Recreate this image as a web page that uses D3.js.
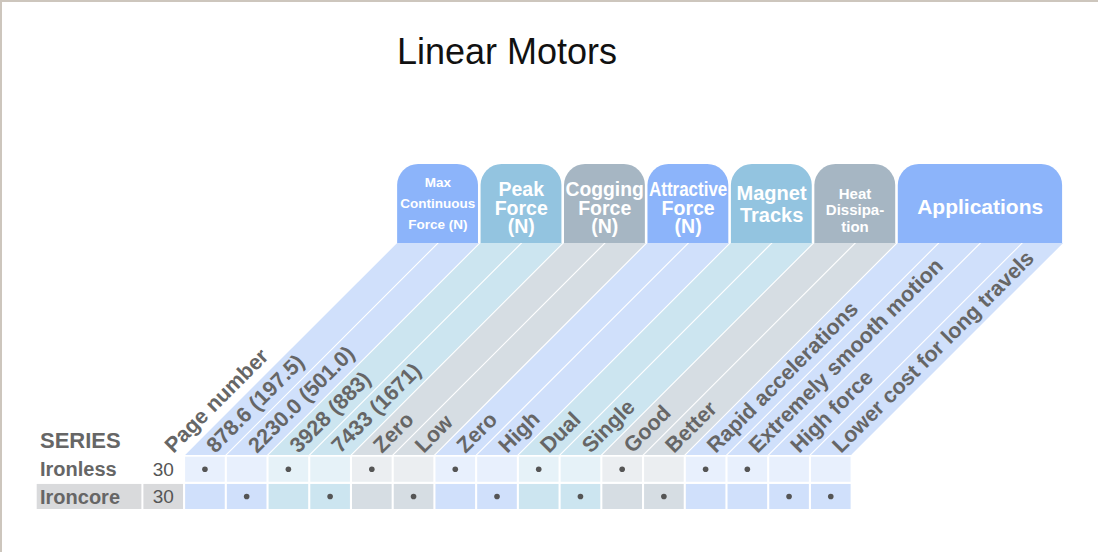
<!DOCTYPE html>
<html>
<head>
<meta charset="utf-8">
<script src="https://cdn.jsdelivr.net/npm/d3@7"></script>
<style>
  body { margin: 0; background: #fff; }
  svg { display: block; font-family: "Liberation Sans", Arial, sans-serif; }
</style>
</head>
<body>
<div id="chart-area"></div>
<script>
// columns (first one is the page number column)
var columns = ["Page number", "878.6 (197.5)", "2230.0 (501.0)", "3928 (883)", "7433 (1671)",
  "Zero", "Low", "Zero", "High", "Dual", "Single", "Good", "Better",
  "Rapid accelerations", "Extremely smooth motion", "High force", "Lower cost for long travels"];

// header groups
var groupTitles = [["Max", "Continuous", "Force (N)"], ["Peak", "Force", "(N)"], ["Cogging", "Force", "(N)"],
  ["Attractive", "Force", "(N)"], ["Magnet", "Tracks"], ["Heat", "Dissipa-", "tion"], ["Applications"]];
var groupSpans = [2, 2, 2, 2, 2, 2, 4];
var groupKinds = ["blue", "cyan", "gray", "blue", "cyan", "gray", "blue"];

// series rows
var series = ["Ironless", "Ironcore"];
var pageNumbers = [30, 30];
var ironless = [1, 0, 1, 0, 1, 0, 1, 0, 1, 0, 1, 0, 1, 1, 0, 0];
var ironcore = [0, 1, 0, 1, 0, 1, 0, 1, 0, 1, 0, 1, 0, 0, 1, 1];

var width = 1098, height = 552;
var svg = d3.select("#chart-area").append("svg").attr("width", width).attr("height", height);

var bandColor = {blue: "#d0e0fb", cyan: "#cce5f0", gray: "#d6dde3"};
var tabColor = {blue: "#8cb4fa", cyan: "#93c4e0", gray: "#a6b6c3"};
// tab text styles: size, line height, centre
var tabStyle = [
  {fs: 13.5, lh: 21, cy: 203}, {fs: 19.5, lh: 18.5, cy: 208}, {fs: 19.5, lh: 18.5, cy: 208},
  {fs: 19.5, lh: 18.5, cy: 208}, {fs: 20, lh: 22, cy: 204}, {fs: 15, lh: 16.5, cy: 210}, {fs: 21, lh: 20, cy: 207}
];

// frame
svg.append("line").attr("x1", 0).attr("x2", width).attr("y1", 1).attr("y2", 1).attr("stroke", "#cdc6bd").attr("stroke-width", 2);
svg.append("line").attr("x1", 1).attr("x2", 1).attr("y1", 0).attr("y2", height).attr("stroke", "#cdc6bd").attr("stroke-width", 2);

svg.append("text").attr("x", 397).attr("y", 64).attr("font-size", 36).attr("fill", "#111").text("Linear Motors");

var x = d3.scaleBand().domain(d3.range(columns.length)).range([143.4, 850.6]).paddingInner(0.05);
var y = d3.scaleBand().domain(series).range([456.7, 509]).paddingInner(0.08);
var bw = x.bandwidth();
var yB = 455, yT = 243, H = yB - yT;

// colour kind for each data column
var colKind = [];
groupSpans.forEach(function(s, i) { for (var k = 0; k < s; k++) colKind.push(groupKinds[i]); });

// slanted bands
var bandCols = d3.range(1, columns.length);
svg.selectAll(".band").data(bandCols).enter().append("path")
  .attr("class", "band")
  .attr("fill", function(d) { return bandColor[colKind[d - 1]]; })
  .attr("d", function(d) {
    var x0 = x(d), x1 = x(d) + bw + 0.5;
    return "M" + x0 + "," + yB + "L" + x1 + "," + yB + "L" + (x1 + H) + "," + yT + "L" + (x0 + H) + "," + yT + "Z";
  });

// tabs
var start = 1;
var tabs = groupSpans.map(function(s, i) {
  var t = {i: i, a: start, b: start + s - 1};
  start += s;
  return t;
});
var r = 21, tabTop = 164;
var tabG = svg.selectAll(".tab").data(tabs).enter().append("g").attr("class", "tab");
tabG.append("path")
  .attr("fill", function(d) { return tabColor[groupKinds[d.i]]; })
  .attr("d", function(d) {
    var x0 = x(d.a) + H, x1 = x(d.b) + bw + H - 0.5;
    return "M" + x0 + "," + yT + "L" + x0 + "," + (tabTop + r) +
      "A" + r + "," + r + " 0 0 1 " + (x0 + r) + "," + tabTop +
      "L" + (x1 - r) + "," + tabTop +
      "A" + r + "," + r + " 0 0 1 " + x1 + "," + (tabTop + r) +
      "L" + x1 + "," + yT + "Z";
  });
tabG.each(function(d) {
  var st = tabStyle[d.i];
  var x0 = x(d.a) + H, x1 = x(d.b) + bw + H;
  var lines = groupTitles[d.i];
  var n = lines.length;
  lines.forEach(function(l, k) {
    var t = d3.select(this).append("text")
      .attr("x", (x0 + x1) / 2)
      .attr("y", st.cy + (k - (n - 1) / 2) * st.lh + 0.35 * st.fs)
      .attr("text-anchor", "middle")
      .attr("font-size", st.fs)
      .attr("font-weight", "bold")
      .attr("fill", "#fff")
      .text(l);
    var maxW = x1 - x0 - 3;
    if (t.node().getComputedTextLength() > maxW) {
      t.attr("textLength", maxW).attr("lengthAdjust", "spacingAndGlyphs");
    }
  }, this);
});

// slanted column labels
svg.selectAll(".colLabel").data(d3.range(columns.length)).enter().append("text")
  .attr("class", "colLabel")
  .attr("transform", function(d) { return "translate(" + (x(d) + bw / 2) + "," + yB + ") rotate(-45)"; })
  .attr("x", 8)
  .attr("dy", "0.3em")
  .attr("font-size", 21.5)
  .attr("font-weight", "bold")
  .attr("fill", "#666")
  .text(function(d) { return columns[d]; });

// series table
svg.append("text").attr("x", 40).attr("y", 448).attr("font-size", 22).attr("font-weight", "bold").attr("fill", "#666").text("SERIES");

var marks = [ironless, ironcore];
series.forEach(function(s, i) {
  var ry = y(s), rh = y.bandwidth();
  if (i === 1) {
    svg.append("rect").attr("x", 36.7).attr("y", ry).attr("width", x(0) - 2 - 36.7).attr("height", rh).attr("fill", "#d9dadc");
    svg.append("rect").attr("x", x(0)).attr("y", ry).attr("width", bw).attr("height", rh).attr("fill", "#d9dadc");
  }
  svg.append("text").attr("x", 40).attr("y", ry + rh / 2).attr("dy", "0.36em")
    .attr("font-size", 20).attr("font-weight", "bold").attr("fill", "#666").text(s);
  svg.append("text").attr("x", x(0) + bw / 2).attr("y", ry + rh / 2).attr("dy", "0.36em")
    .attr("text-anchor", "middle").attr("font-size", 19).attr("fill", "#555").text(pageNumbers[i]);

  var cells = svg.selectAll(".cell" + i).data(marks[i]).enter().append("g").attr("class", "cell" + i);
  cells.append("rect")
    .attr("x", function(d, j) { return x(j + 1); })
    .attr("y", ry).attr("width", bw).attr("height", rh)
    .attr("fill", function(d, j) {
      var c = bandColor[colKind[j]];
      return i === 0 ? d3.interpolateRgb(c, "#fff")(0.5) : c;
    });
  cells.each(function(d, j) {
    if (d === 1) {
      d3.select(this).append("circle")
        .attr("cx", x(j + 1) + bw / 2).attr("cy", ry + rh / 2)
        .attr("r", 2.8).attr("fill", "#555");
    }
  });
});
</script>
</body>
</html>
